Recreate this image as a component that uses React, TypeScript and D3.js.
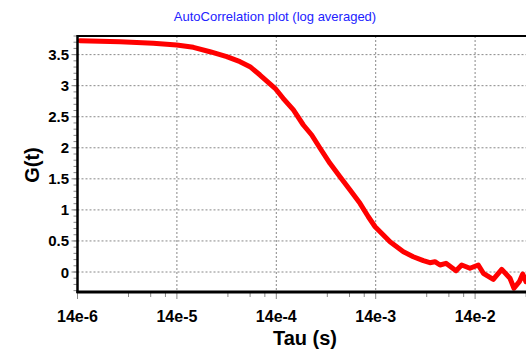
import React from "react";
import * as d3 from "d3";

const tauValues = [
  1.48e-5, 3.75e-5, 8.1e-5, 1.39e-4, 2.05e-4, 3.01e-4, 4.44e-4, 6.04e-4, 7.61e-4, 9.6e-4,
  1.36e-3, 1.64e-3, 2.08e-3, 2.62e-3, 3.18e-3, 3.86e-3, 4.85e-3, 6.12e-3, 7.73e-3, 9.73e-3,
  1.18e-2, 1.38e-2, 1.67e-2, 1.95e-2, 2.66e-2, 3.34e-2, 4.22e-2, 4.91e-2, 5.52e-2, 6.21e-2,
  7.13e-2, 9.0e-2, 0.1026, 0.1242, 0.1507, 0.1695, 0.2134, 0.2595, 0.3141, 0.3445,
  0.3901, 0.4218, 0.4551,
];
const gValues = [
  3.725, 3.708, 3.683, 3.655, 3.618, 3.547, 3.467, 3.386, 3.306, 3.172,
  2.958, 2.797, 2.609, 2.367, 2.206, 1.992, 1.75, 1.535, 1.32, 1.106,
  0.89, 0.729, 0.596, 0.488, 0.327, 0.246, 0.182, 0.15, 0.166, 0.113,
  0.14, 0.021, 0.113, 0.06, 0.113, -0.021, -0.118, 0.043, -0.101, -0.262,
  -0.156, -0.032, -0.156,
];

const xTickValues = [1.4e-5, 1.4e-4, 1.4e-3, 1.4e-2, 1.4e-1];
const xTickLabels = ["14e-6", "14e-5", "14e-4", "14e-3", "14e-2"];
const xMinorFactors = [3.26, 5.45, 7.67];
const yTickValues = [0, 0.5, 1, 1.5, 2, 2.5, 3, 3.5];
const yTickLabels = ["0", "0.5", "1", "1.5", "2", "2.5", "3", "3.5"];
const yMinorValues = d3.range(-3, 39).map((i) => i / 10);

const title = "AutoCorrelation plot (log averaged)";
const xTitle = "Tau (s)";
const yTitle = "G(t)";

const W = 526;
const H = 349;
const left = 77.5;
const top = 36;
const bottom = 292;
const right = 560;

export default function App() {
  const x = d3.scaleLog().domain([1.4e-5, 1.4e-5 * Math.pow(10, (right - left) / 99.4)]).range([left, right]);
  const y = d3.scaleLinear().domain([-0.322, 3.8]).range([bottom, top]);
  const data = tauValues.map((t, i) => [t, gValues[i]] as [number, number]);
  const line = d3
    .line<[number, number]>()
    .x((d) => x(d[0]))
    .y((d) => y(d[1]));
  const minorX: number[] = [];
  xTickValues.forEach((v) => xMinorFactors.forEach((f) => minorX.push(v * f)));
  const font = "Arial, 'Liberation Sans', sans-serif";
  return (
    <svg width={W} height={H} style={{ position: "absolute", left: 0, top: 0, background: "#fff" }}>
      <defs>
        <clipPath id="plotclip">
          <rect x={left} y={top - 4} width={right - left} height={bottom - top + 4} />
        </clipPath>
      </defs>
      <rect x={0} y={0} width={W} height={H} fill="#fff" />
      <text x={275} y={21} textAnchor="middle" fontFamily={font} fontSize={13} fill="#2222ff">
        {title}
      </text>
      {/* grid */}
      {xTickValues.slice(1).map((v, i) => (
        <line key={"gx" + i} x1={x(v)} x2={x(v)} y1={top} y2={bottom} stroke="#888" strokeWidth={1} strokeDasharray="2,2" />
      ))}
      {yTickValues.map((v, i) => (
        <line key={"gy" + i} x1={left} x2={W} y1={y(v)} y2={y(v)} stroke="#888" strokeWidth={1} strokeDasharray="2,2" />
      ))}
      {/* y ticks */}
      {yMinorValues.map((v, i) => (
        <line key={"ym" + i} x1={left - 4} x2={left} y1={y(v)} y2={y(v)} stroke="#888" strokeWidth={1} />
      ))}
      {yTickValues.map((v, i) => (
        <line key={"yt" + i} x1={left - 6} x2={left} y1={y(v)} y2={y(v)} stroke="#888" strokeWidth={1} />
      ))}
      {yTickValues.map((v, i) => (
        <text key={"yl" + i} x={69} y={y(v) + 5.5} textAnchor="end" fontFamily={font} fontWeight="bold" fontSize={15} fill="#000">
          {yTickLabels[i]}
        </text>
      ))}
      {/* x ticks */}
      {minorX.map((v, i) => (
        <line key={"xm" + i} x1={x(v)} x2={x(v)} y1={bottom} y2={bottom + 5} stroke="#888" strokeWidth={1} />
      ))}
      {xTickValues.map((v, i) => (
        <line key={"xt" + i} x1={x(v)} x2={x(v)} y1={bottom} y2={bottom + 7} stroke="#888" strokeWidth={1} />
      ))}
      {xTickValues.map((v, i) => (
        <text key={"xl" + i} x={x(v)} y={322} textAnchor="middle" fontFamily={font} fontWeight="bold" fontSize={16} fill="#000">
          {xTickLabels[i]}
        </text>
      ))}
      {/* curve */}
      <path
        d={line(data) || ""}
        fill="none"
        stroke="#ff0000"
        strokeWidth={5}
        strokeLinejoin="round"
        strokeLinecap="round"
        clipPath="url(#plotclip)"
      />
      {/* frame */}
      <line x1={left - 0.5} x2={W} y1={top} y2={top} stroke="#000" strokeWidth={2} />
      <line x1={left} x2={left} y1={top - 1} y2={bottom + 1} stroke="#000" strokeWidth={2.5} />
      <line x1={left - 1} x2={W} y1={bottom} y2={bottom} stroke="#000" strokeWidth={3} />
      {/* axis titles */}
      <text x={305} y={345} textAnchor="middle" fontFamily={font} fontWeight="bold" fontSize={20} fill="#000">
        {xTitle}
      </text>
      <text
        transform={`translate(39,165) rotate(-90)`}
        textAnchor="middle"
        fontFamily={font}
        fontWeight="bold"
        fontSize={20}
        fill="#000"
      >
        {yTitle}
      </text>
    </svg>
  );
}
